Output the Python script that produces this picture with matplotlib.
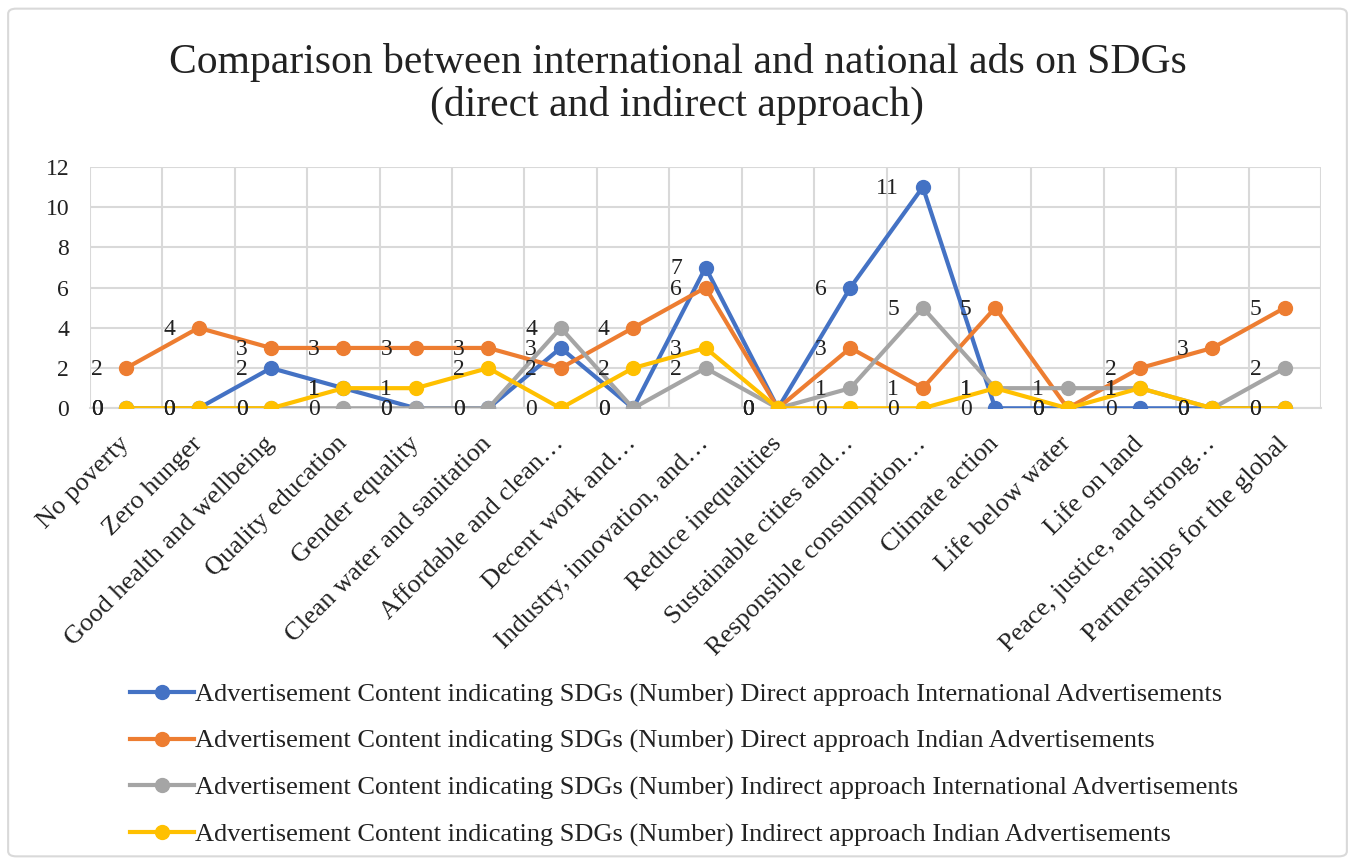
import matplotlib
matplotlib.use("Agg")
import matplotlib.pyplot as plt
from matplotlib.patches import FancyBboxPatch

plt.rcParams['font.family'] = ['Liberation Serif', 'DejaVu Serif']

# SDG categories (as truncated on the original chart)
categories = [
    "No poverty", "Zero hunger", "Good health and wellbeing", "Quality education",
    "Gender equality", "Clean water and sanitation", "Affordable and clean\u2026",
    "Decent work and\u2026", "Industry, innovation, and\u2026", "Reduce inequalities",
    "Sustainable cities and\u2026", "Responsible consumption\u2026", "Climate action",
    "Life below water", "Life on land", "Peace, justice, and strong\u2026",
    "Partnerships for the global",
]

direct_international = [0, 0, 2, 1, 0, 0, 3, 0, 7, 0, 6, 11, 0, 0, 0, 0, 0]
direct_indian = [2, 4, 3, 3, 3, 3, 2, 4, 6, 0, 3, 1, 5, 0, 2, 3, 5]
indirect_international = [0, 0, 0, 0, 0, 0, 4, 0, 2, 0, 1, 5, 1, 1, 1, 0, 2]
indirect_indian = [0, 0, 0, 1, 1, 2, 0, 2, 3, 0, 0, 0, 1, 0, 1, 0, 0]

series_names = [
    "Advertisement Content indicating SDGs (Number) Direct approach International Advertisements",
    "Advertisement Content indicating SDGs (Number) Direct approach Indian Advertisements",
    "Advertisement Content indicating SDGs (Number) Indirect approach International Advertisements",
    "Advertisement Content indicating SDGs (Number) Indirect approach Indian Advertisements",
]
series_values = [direct_international, direct_indian, indirect_international, indirect_indian]
colors = ["#4472C4", "#ED7D31", "#A5A5A5", "#FFC000"]

fig = plt.figure(figsize=(13.55, 8.65), dpi=100)
ax = fig.add_axes([0.0664, 0.528, 0.9086, 0.279])

x = list(range(len(categories)))
for name, vals, col in zip(series_names, series_values, colors):
    ax.plot(x, vals, color=col, lw=3, marker='o', ms=10, label=name, zorder=3)

# data labels to the left of each point
for vals in series_values:
    for xi, v in zip(x, vals):
        ax.annotate(str(v), (xi, v), xytext=(-17, -1), textcoords='offset points',
                    ha='right', va='center', fontsize=17, color='#222222', zorder=5)

ax.set_xlim(-0.5, len(categories) - 0.5)
ax.set_ylim(0, 12)
ax.set_yticks(range(0, 13, 2))
ax.set_xticks(x)
ax.set_xticklabels(categories, rotation=45, ha='right', va='center',
                   rotation_mode='anchor', fontsize=19, color='#222222')
ax.tick_params(axis='x', length=0, pad=23)
ax.tick_params(axis='y', length=0, pad=15, labelsize=17, labelcolor='#222222')

ax.set_xticks([i - 0.5 for i in range(len(categories) + 1)], minor=True)
ax.grid(True, which='major', axis='y', color='#D9D9D9', lw=1.5)
ax.grid(True, which='minor', axis='x', color='#D9D9D9', lw=1.5)
ax.tick_params(axis='x', which='minor', length=0)
ax.set_axisbelow(True)
for side in ['top', 'left', 'right']:
    ax.spines[side].set_visible(False)
ax.spines['bottom'].set_color('#D9D9D9')
ax.spines['bottom'].set_linewidth(1.5)

fig.text(0.5, 0.903, "Comparison between international and national ads on SDGs\n(direct and indirect approach)",
         ha='center', va='center', fontsize=30, color='#222222', linespacing=1.13)

fig.legend(loc='upper center', bbox_to_anchor=(0.505, 0.238), frameon=False,
           fontsize=19, handlelength=2.4, handletextpad=0.05, labelspacing=0.86,
           labelcolor='#222222')

border = FancyBboxPatch((0.006, 0.01), 0.988, 0.98, boxstyle="round,pad=0,rounding_size=0.006",
                        transform=fig.transFigure, fill=False, edgecolor='#D9D9D9', lw=1.5)
fig.patches.append(border)

fig.savefig("out.png", dpi=100)
